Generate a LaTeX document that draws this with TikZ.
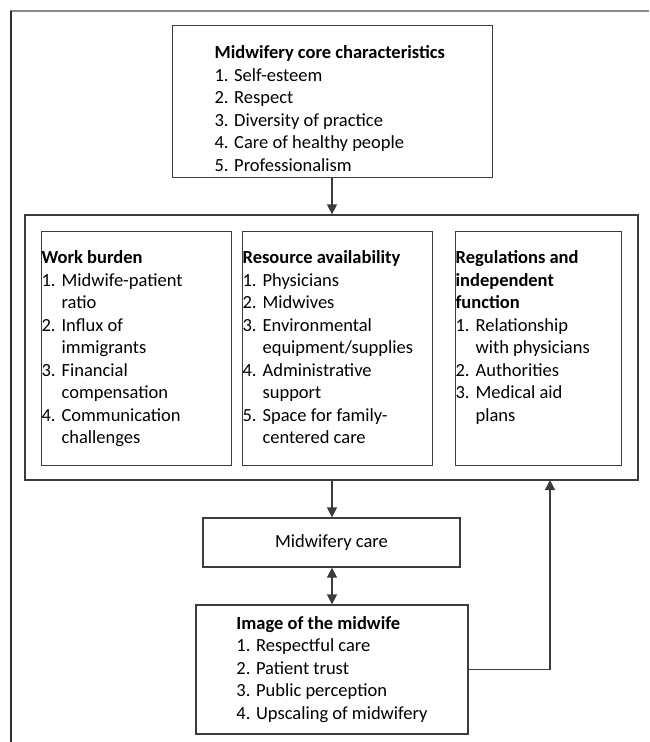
\documentclass[tikz,border=0pt]{standalone}
\usepackage{fontspec}
\setmainfont{Carlito}
\usepackage{xcolor}
\definecolor{frame-grey}{HTML}{8A8A8A}
\definecolor{frame-dark}{HTML}{2E2E2E}
\definecolor{box-line}{HTML}{3C3C3C}
\usetikzlibrary{arrows.meta}

\newcommand{\listline}[2]{\par\hangindent=20pt\hangafter=1\noindent\makebox[20pt][l]{#1.}#2}

\tikzset{
    box/.style={draw=box-line, line width=1.2pt, inner sep=0pt,
        font=\fontsize{18.5}{22.5}\selectfont},
    panel/.style={box, anchor=north west},
    link/.style={draw=box-line, line width=1.2pt, -{Triangle[length=10pt,width=10pt]}},
    twoway/.style={link, {Triangle[length=10pt,width=10pt]}-{Triangle[length=10pt,width=10pt]}}
}

\begin{document}
\begin{tikzpicture}[x=1pt, y=-1pt]

    % Page size
    \useasboundingbox (0, 0) rectangle (649, 742);

    % Frame
    \draw[frame-grey, line width=1.6pt] (10, 11) -- (649, 11);
    \draw[frame-dark, line width=1.2pt] (11, 11) -- (11, 742);

    % Core characteristics
    \node[box, anchor=north west] (core) at (172, 25)
        {\parbox[c][152pt][t]{320pt}{\vspace*{20pt}\leftskip=42pt
        {\bfseries Midwifery core characteristics}\\
        1. Self-esteem\\
        2. Respect\\
        3. Diversity of practice\\
        4. Care of healthy people\\
        5. Professionalism}};

    % Factors
    \node[box, minimum width=613pt, minimum height=265pt] (factors) at (331.5, 347.5) {};

    \node[panel] (burden) at (41, 231)
        {\parbox[c][234pt][t]{190pt}{\vspace*{19pt}\leftskip=13pt\raggedright
        {\bfseries Work burden}
        \listline{1}{Midwife-patient\newline ratio}
        \listline{2}{Influx of\newline immigrants}
        \listline{3}{Financial\newline compensation}
        \listline{4}{Communication\newline challenges}}};

    \node[panel] (resources) at (242, 231)
        {\parbox[c][234pt][t]{190pt}{\vspace*{19pt}\leftskip=12pt\raggedright
        {\bfseries Resource availability}
        \listline{1}{Physicians}
        \listline{2}{Midwives}
        \listline{3}{Environmental\newline equipment/supplies}
        \listline{4}{Administrative\newline support}
        \listline{5}{Space for family-\newline centered care}}};

    \node[panel] (rules) at (455, 231)
        {\parbox[c][234pt][t]{166pt}{\vspace*{19pt}\leftskip=13pt\raggedright
        {\bfseries Regulations and\\independent\\function}
        \listline{1}{Relationship\newline with physicians}
        \listline{2}{Authorities}
        \listline{3}{Medical aid\newline plans}}};

    % Care and image
    \node[box, minimum width=257pt, minimum height=49pt] (care) at (331.5, 542.5) {Midwifery care};

    \node[box, minimum width=272pt, minimum height=129pt, align=left] (image) at (332, 669.5)
        {{\bfseries Image of the midwife}\\
        1. Respectful care\\
        2. Patient trust\\
        3. Public perception\\
        4. Upscaling of midwifery};

    % Connectors
    \coordinate (feedback) at (550, 480);
    \draw[link] (core.south -| 332, 0) -- (factors.north -| 332, 0);
    \draw[link] (factors.south -| 332, 0) -- (care.north -| 332, 0);
    \draw[twoway] (care.south -| 332, 0) -- (image.north -| 332, 0);
    \draw[link] (image.east) -| (feedback);

\end{tikzpicture}
\end{document}
